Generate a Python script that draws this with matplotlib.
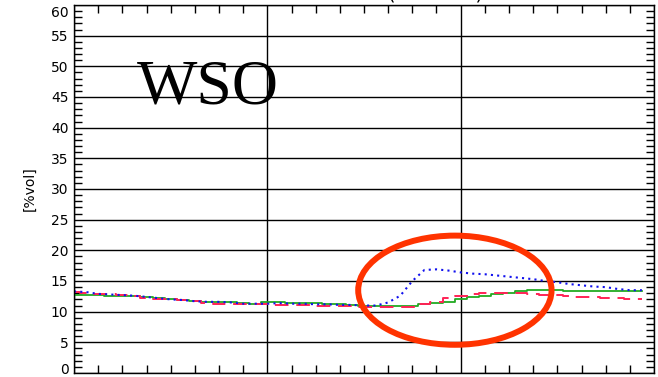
import numpy as np
import matplotlib

matplotlib.use("Agg")
import matplotlib.pyplot as plt
from matplotlib.patches import Ellipse
from matplotlib.ticker import MultipleLocator, FuncFormatter
from matplotlib.transforms import offset_copy

# soil water content, three runs, sampled every 1/16 of a unit on x
t = np.arange(48) / 16

run_green = [12.7, 12.7, 12.7, 12.6, 12.5, 12.5, 12.4, 12.2, 12.0, 11.9, 11.7, 11.5,
             11.5, 11.5, 11.4, 11.3, 11.5, 11.5, 11.4, 11.4, 11.4, 11.3, 11.2, 11.1,
             11.0, 11.0, 10.9, 10.9, 10.9, 11.2, 11.4, 11.6, 12.0, 12.4, 12.6, 12.9,
             13.1, 13.3, 13.5, 13.6, 13.6, 13.4, 13.4, 13.4, 13.4, 13.4, 13.4, 13.4]
run_blue = [13.3, 13.2, 12.9, 12.8, 12.7, 12.6, 12.4, 12.2, 12.0, 11.9, 11.7, 11.6,
            11.6, 11.5, 11.3, 11.3, 11.3, 11.4, 11.3, 11.3, 11.2, 11.2, 11.1, 11.1,
            11.0, 11.0, 11.5, 12.6, 15.0, 16.8, 16.9, 16.7, 16.4, 16.2, 16.1, 15.9,
            15.7, 15.5, 15.3, 15.0, 14.8, 14.5, 14.3, 14.1, 14.0, 13.7, 13.5, 13.5]
run_red = [13.2, 13.1, 12.9, 12.9, 12.7, 12.5, 12.3, 12.1, 12.1, 11.9, 11.7, 11.4,
           11.3, 11.3, 11.3, 11.2, 11.2, 11.1, 11.1, 11.1, 11.0, 11.0, 10.9, 10.9,
           10.8, 10.7, 10.7, 10.7, 10.8, 11.2, 11.6, 12.2, 12.6, 12.8, 13.0, 13.1,
           13.1, 13.0, 12.9, 12.7, 12.7, 12.6, 12.4, 12.4, 12.2, 12.2, 12.0, 12.0]

fig = plt.figure(figsize=(6.58, 3.77), dpi=100)
ax = fig.add_axes([74 / 658, 4 / 377, 580 / 658, 368 / 377])

ax.plot(t, run_green, color="#22aa22", lw=1.3, drawstyle="steps-mid")
ax.plot(t, run_red, color="#ff2255", lw=1.4, ls=(0, (7, 4)), drawstyle="steps-mid")
ax.plot(t, run_blue, color="#1111ee", lw=1.5, ls=(0, (1, 2)))

ax.set_xlim(0, 3)
ax.set_ylim(0, 60)
ax.yaxis.set_major_locator(MultipleLocator(5))
ax.yaxis.set_minor_locator(MultipleLocator(1))
ax.xaxis.set_major_locator(MultipleLocator(1))
ax.xaxis.set_minor_locator(MultipleLocator(1 / 8))
ax.grid(True, which="major", color="black", lw=1.0)
ax.tick_params(which="both", direction="in", top=True, right=True, length=6,
               width=1.0, labelbottom=False, labelsize=10, pad=4)
ax.tick_params(which="major", length=0)
for s in ax.spines.values():
    s.set_linewidth(1.0)

# the end labels are drawn by hand so they stay inside the frame
ax.yaxis.set_major_formatter(FuncFormatter(lambda v, p: "" if v in (0, 60) else f"{v:g}"))
lab_tr = offset_copy(ax.get_yaxis_transform(), fig=fig, x=-4, y=-1, units="points")
ax.text(0, 0, "0", transform=lab_tr, ha="right", va="baseline", fontsize=10)
ax.text(0, 60, "60", transform=lab_tr, ha="right", va="top", fontsize=10)

ax.set_ylabel("[%vol]", fontsize=10, labelpad=10)

ax.text(0.325, 44.0, "WSO", family="Liberation Serif", fontsize=46,
        ha="left", va="baseline")

ax.add_patch(Ellipse((1.97, 13.5), 1.0, 17.8, fill=False, ec="#ff3300", lw=4.3,
                     zorder=5))

fig.text(435 / 658, 1.0, "(0-10 cm)", ha="center", va="baseline", fontsize=14)

fig.savefig("out.png", dpi=100)
